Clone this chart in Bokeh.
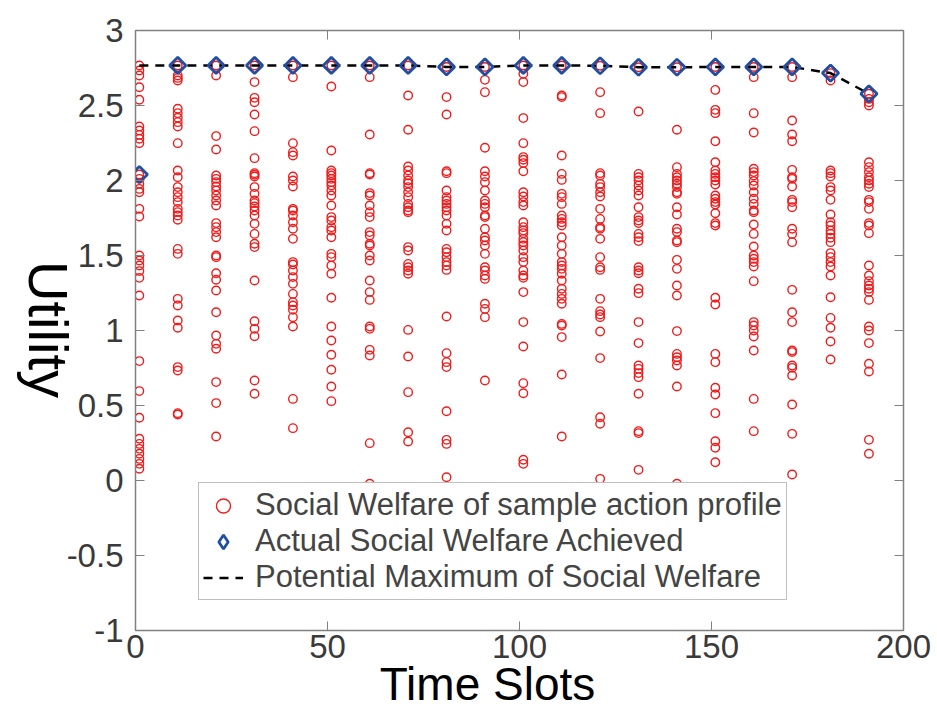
import math
from bokeh.plotting import figure
from bokeh.models import FixedTicker, LinearAxis, Legend, LegendItem, Range1d, Label
from bokeh.embed import file_html
from bokeh.resources import INLINE

time_slots = [1, 11, 21, 31, 41, 51, 61, 71, 81, 91, 101, 111, 121, 131, 141, 151, 161, 171, 181, 191]

samples = [
    [2.767, 2.733, 2.70, 2.622, 2.538, 2.36, 2.333, 2.304, 2.278, 2.249, 2.04, 2.011, 1.978, 1.944, 1.922, 1.811, 1.76,
     1.50, 1.467, 1.433, 1.396, 1.351, 1.233, 0.796, 0.596, 0.418, 0.278, 0.244, 0.211, 0.178, 0.144, 0.111, 0.078],
    [2.767, 2.70, 2.684, 2.667, 2.478, 2.449, 2.418, 2.389, 2.36, 2.249, 2.067, 2.022, 1.956, 1.922, 1.889, 1.856, 1.811,
     1.789, 1.767, 1.738, 1.544, 1.511, 1.211, 1.167, 1.067, 1.018, 0.756, 0.733, 0.449, 0.44],
    [2.767, 2.70, 2.296, 2.207, 2.033, 2.011, 1.989, 1.96, 1.933, 1.90, 1.867, 1.833, 1.716, 1.689, 1.656, 1.622, 1.50,
     1.489, 1.382, 1.338, 1.267, 1.122, 0.967, 0.911, 0.878, 0.656, 0.516, 0.293],
    [2.767, 2.656, 2.551, 2.522, 2.44, 2.329, 2.149, 2.049, 2.038, 2.027, 1.956, 1.911, 1.867, 1.849, 1.827, 1.80, 1.767,
     1.711, 1.644, 1.578, 1.556, 1.333, 1.062, 1.011, 0.962, 0.667, 0.578],
    [2.767, 2.689, 2.249, 2.189, 2.167, 2.027, 2.00, 1.96, 1.811, 1.80, 1.767, 1.722, 1.678, 1.611, 1.456, 1.44, 1.40,
     1.356, 1.311, 1.244, 1.189, 1.167, 1.138, 1.089, 1.027, 0.544, 0.349],
    [2.767, 2.627, 2.20, 2.067, 2.049, 2.033, 2.011, 1.989, 1.967, 1.933, 1.90, 1.833, 1.756, 1.733, 1.689, 1.667, 1.622,
     1.511, 1.489, 1.433, 1.378, 1.218, 1.027, 0.933, 0.838, 0.738, 0.627, 0.529],
    [2.767, 2.689, 2.307, 2.049, 2.04, 1.916, 1.90, 1.833, 1.789, 1.756, 1.656, 1.633, 1.578, 1.567, 1.50, 1.467, 1.333,
     1.256, 1.204, 1.027, 1.011, 0.871, 0.833, 0.249, -0.022],
    [2.767, 2.567, 2.338, 2.093, 2.067, 2.033, 2.00, 1.982, 1.956, 1.922, 1.889, 1.844, 1.822, 1.80, 1.789, 1.556, 1.533,
     1.444, 1.422, 1.40, 1.378, 1.004, 0.827, 0.589, 0.322, 0.26],
    [2.757, 2.556, 2.44, 2.062, 2.049, 1.933, 1.889, 1.867, 1.844, 1.822, 1.80, 1.767, 1.711, 1.667, 1.544, 1.522, 1.489,
     1.456, 1.433, 1.404, 1.093, 0.849, 0.789, 0.756, 0.462, 0.271, 0.244, 0.022],
    [2.757, 2.671, 2.589, 2.218, 2.062, 2.027, 1.989, 1.933, 1.867, 1.844, 1.822, 1.767, 1.756, 1.678, 1.622, 1.60, 1.567,
     1.511, 1.422, 1.40, 1.367, 1.344, 1.178, 1.144, 1.089, 0.667],
    [2.767, 2.711, 2.656, 2.416, 2.249, 2.156, 2.138, 2.116, 2.062, 1.922, 1.893, 1.856, 1.833, 1.722, 1.689, 1.667, 1.649,
     1.611, 1.589, 1.567, 1.533, 1.489, 1.456, 1.40, 1.367, 1.351, 1.256, 1.056, 0.893, 0.649, 0.582, 0.138, 0.111],
    [2.767, 2.567, 2.556, 2.167, 2.044, 2.004, 1.911, 1.889, 1.844, 1.767, 1.744, 1.722, 1.70, 1.622, 1.567, 1.511, 1.456,
     1.433, 1.411, 1.378, 1.333, 1.278, 1.244, 1.211, 1.178, 1.044, 1.033, 0.956, 0.707, 0.293],
    [2.765, 2.589, 2.449, 2.049, 2.033, 1.978, 1.956, 1.922, 1.893, 1.811, 1.744, 1.689, 1.678, 1.611, 1.489, 1.422, 1.404,
     1.211, 1.129, 1.107, 1.089, 0.993, 0.816, 0.422, 0.378, 0.011],
    [2.755, 2.46, 2.044, 2.022, 2.00, 1.967, 1.933, 1.90, 1.822, 1.756, 1.733, 1.716, 1.644, 1.622, 1.596, 1.422, 1.40,
     1.382, 1.278, 1.249, 1.056, 0.916, 0.767, 0.744, 0.716, 0.689, 0.578, 0.329, 0.316, 0.071],
    [2.755, 2.338, 2.089, 2.044, 2.022, 2.00, 1.978, 1.956, 1.922, 1.911, 1.822, 1.773, 1.678, 1.656, 1.60, 1.589, 1.471,
     1.411, 1.30, 1.233, 0.996, 0.844, 0.822, 0.80, 0.767, 0.627, -0.022],
    [2.757, 2.604, 2.471, 2.449, 2.262, 2.122, 2.067, 2.044, 2.022, 2.00, 1.973, 1.90, 1.878, 1.856, 1.84, 1.782, 1.716,
     1.70, 1.218, 1.173, 0.844, 0.789, 0.618, 0.573, 0.449, 0.262, 0.218, 0.122],
    [2.757, 2.689, 2.449, 2.32, 2.078, 2.056, 2.033, 1.996, 1.967, 1.922, 1.878, 1.844, 1.80, 1.789, 1.707, 1.644, 1.56,
     1.50, 1.478, 1.456, 1.427, 1.329, 1.056, 1.033, 1.00, 0.96, 0.867, 0.544, 0.329],
    [2.757, 2.689, 2.40, 2.307, 2.262, 2.071, 2.022, 2.011, 1.96, 1.871, 1.856, 1.822, 1.678, 1.644, 1.589, 1.271, 1.122,
     1.056, 0.867, 0.856, 0.767, 0.751, 0.70, 0.507, 0.311, 0.04],
    [2.716, 2.667, 2.067, 2.049, 2.027, 1.956, 1.933, 1.871, 1.773, 1.722, 1.70, 1.667, 1.644, 1.618, 1.589, 1.516, 1.489,
     1.456, 1.427, 1.367, 1.222, 1.084, 1.018, 0.927, 0.807],
    [2.578, 2.544, 2.522, 2.50, 2.122, 2.089, 2.056, 2.022, 2.00, 1.978, 1.956, 1.871, 1.856, 1.811, 1.716, 1.70, 1.649,
     1.433, 1.367, 1.329, 1.30, 1.278, 1.256, 1.204, 1.027, 1.00, 0.916, 0.778, 0.727, 0.271, 0.178],
]

achieved = [2.04, 2.767, 2.767, 2.767, 2.767, 2.767, 2.767, 2.767, 2.757, 2.757, 2.767, 2.767, 2.765, 2.755, 2.755,
            2.757, 2.757, 2.757, 2.716, 2.578]

potential_max = [2.767, 2.767, 2.767, 2.767, 2.767, 2.767, 2.767, 2.767, 2.757, 2.757, 2.767, 2.767, 2.765, 2.755,
                 2.755, 2.757, 2.757, 2.757, 2.716, 2.578]

x_ticks = [0, 50, 100, 150, 200]
y_ticks = [-1, -0.5, 0, 0.5, 1, 1.5, 2, 2.5, 3]
y_tick_labels = ["-1", "-0.5", "0", "0.5", "1", "1.5", "2", "2.5", "3"]

legend_labels = ["Social Welfare of sample action profile",
                 "Actual Social Welfare Achieved",
                 "Potential Maximum of Social Welfare"]
x_title = "Time Slots"
y_title = "Utility"

sx, sy = [], []
for t, col in zip(time_slots, samples):
    for v in col:
        sx.append(t)
        sy.append(v)

FONT = "Liberation Sans"
AX = "#808080"
BLUE = "#1f4ea3"

p = figure(width=937, height=713, output_backend="svg", toolbar_location=None,
           x_range=Range1d(0, 200), y_range=Range1d(-1, 3),
           min_border_left=134, min_border_right=34, min_border_top=30, min_border_bottom=83)
p.xgrid.visible = False
p.ygrid.visible = False
p.outline_line_color = AX
p.outline_line_width = 1.5
p.background_fill_color = "white"

r1 = p.scatter(sx, sy, marker="circle", size=8.5, fill_color=None, line_color="#ee1c1c", line_width=1.4)
r3 = p.line(time_slots, potential_max, line_color="black", line_width=2.5, line_dash="9 7")
p.scatter(time_slots, achieved, marker="square", angle=math.pi / 4, size=11.5, fill_color=None,
          line_color=BLUE, line_width=2.8)
# legend proxy (legend swatches ignore marker rotation); its point lies outside the visible ranges
r2 = p.scatter([-1000], [-1000], marker="diamond", size=19, fill_color=None, line_color=BLUE, line_width=2.8)

for ax in (p.xaxis[0], p.yaxis[0]):
    ax.axis_line_color = AX
    ax.major_tick_line_color = AX
    ax.major_tick_in = 9
    ax.major_tick_out = 0
    ax.minor_tick_line_color = None
    ax.major_label_text_font = FONT
    ax.major_label_text_font_size = "33px"
    ax.major_label_text_color = "#3a3a3a"

p.xaxis.ticker = FixedTicker(ticks=x_ticks)
p.yaxis.ticker = FixedTicker(ticks=y_ticks)
p.yaxis.major_label_overrides = {t: l for t, l in zip(y_ticks, y_tick_labels)}
p.xaxis.major_label_standoff = 4
p.yaxis.major_label_standoff = 12

for side, ticks in (("right", y_ticks), ("above", x_ticks)):
    ax = LinearAxis(ticker=FixedTicker(ticks=ticks), major_label_text_font_size="0px",
                    axis_line_color=AX, major_tick_line_color=AX, major_tick_in=9, major_tick_out=0,
                    minor_tick_line_color=None)
    ax.major_label_text_alpha = 0
    p.add_layout(ax, side)

# axis titles as labels in the side panels (not clipped to the frame)
p.add_layout(Label(x=48, y=301, x_units="screen", y_units="screen", text=y_title, angle=-math.pi / 2,
                   text_font=FONT, text_font_size="56px", text_color="black",
                   text_align="center", text_baseline="alphabetic"), "left")
p.add_layout(Label(x=352, y=29, x_units="screen", y_units="screen", text=x_title,
                   text_font=FONT, text_font_size="46px", text_color="black",
                   text_align="center", text_baseline="alphabetic"), "below")

legend = Legend(items=[LegendItem(label=legend_labels[0], renderers=[r1]),
                       LegendItem(label=legend_labels[1], renderers=[r2]),
                       LegendItem(label=legend_labels[2], renderers=[r3])],
                location=(63, 30), label_text_font=FONT, label_text_font_size="31px",
                border_line_color="#808080", border_line_width=1.2, background_fill_color="white",
                background_fill_alpha=1, glyph_width=40, glyph_height=35, label_height=35,
                spacing=0, padding=4, margin=0, label_standoff=12)
p.add_layout(legend, "center")

open("out.html", "w").write(file_html(p, INLINE))
